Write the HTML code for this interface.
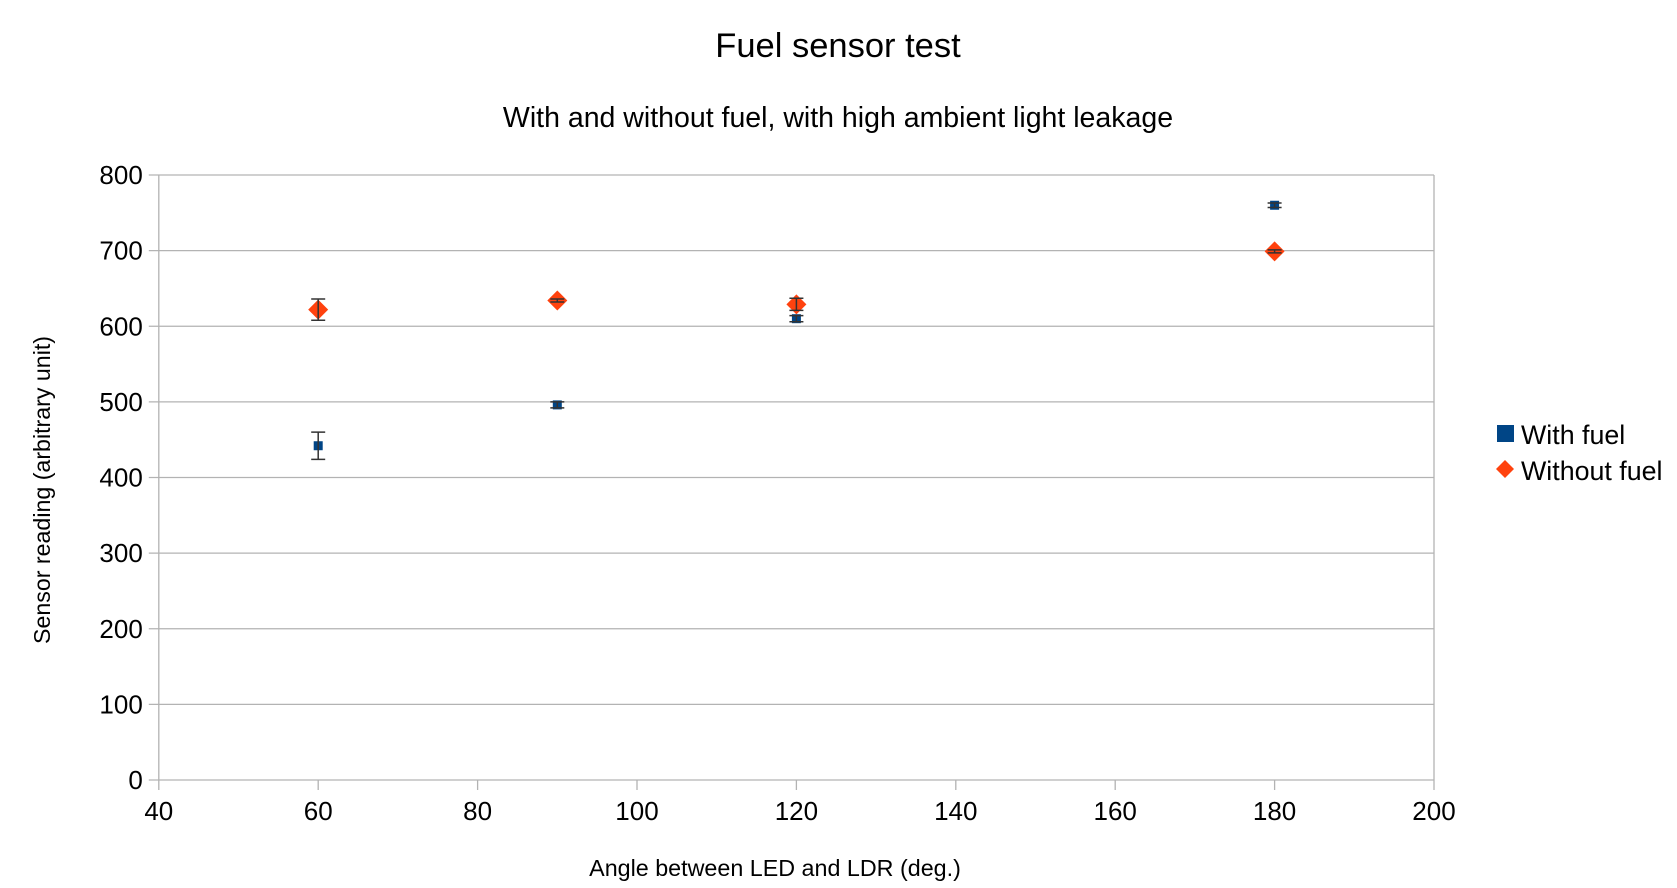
<!DOCTYPE html>
<html><head><meta charset="utf-8"><style>
html,body{margin:0;padding:0;background:#fff;}
svg{display:block;font-family:"Liberation Sans",sans-serif;}
</style></head><body>
<svg id="chart" width="1677" height="888">
<text x="838" y="57" font-size="34.5" text-anchor="middle">Fuel sensor test</text>
<text x="838" y="127" font-size="28.5" text-anchor="middle">With and without fuel, with high ambient light leakage</text>
<g id="grid"></g>
<g id="axes"></g>
<g id="marks"></g>
<text x="775" y="876" font-size="23.3" text-anchor="middle">Angle between LED and LDR (deg.)</text>
<text transform="translate(50,490) rotate(-90)" font-size="23.2" text-anchor="middle">Sensor reading (arbitrary unit)</text>
<g>
<g><rect x="1497" y="425" width="17" height="17" fill="#004586"/><text x="1521" y="444" font-size="26.8">With fuel</text></g>
<g><polygon points="1505,460 1514,469 1505,478 1496,469" fill="#ff420e"/><text x="1521" y="480" font-size="26.8">Without fuel</text></g>
</g>
</svg>
<script>
const xTicks=[40,60,80,100,120,140,160,180,200];
const yTicks=[0,100,200,300,400,500,600,700,800];
const withX=[60,90,120,180];
const withY=[442,496,610,760];
const withErr=[18,4,4,3];
const withoutX=[60,90,120,180];
const withoutY=[622,634,629,699];
const withoutErr=[14,2,8,2];
const NS="http://www.w3.org/2000/svg";
const X0=158.8,X1=1434,Y0=780,Y1=175;
const sx=v=>X0+(v-40)/(200-40)*(X1-X0);
const sy=v=>Y0-(v/800)*(Y0-Y1);
function mk(tag,at,parent){const e=document.createElementNS(NS,tag);for(const k in at)e.setAttribute(k,at[k]);document.getElementById(parent).appendChild(e);return e;}
yTicks.forEach(v=>{
 const l=mk('line',{x1:X0-10,x2:X1,y1:sy(v),y2:sy(v),stroke:'#b3b3b3','stroke-width':1.3},'grid');
 
 
 const t=mk('text',{x:X0-16,y:sy(v)+9,'font-size':26,'text-anchor':'end'},'axes');t.textContent=v;
 
 
});
xTicks.forEach(v=>{
 const l=mk('line',{x1:sx(v),x2:sx(v),y1:(v===40||v===200)?Y1:Y0,y2:Y0+10,stroke:'#b3b3b3','stroke-width':1.3},'grid');
 
 
 const t=mk('text',{x:sx(v),y:Y0+40,'font-size':26,'text-anchor':'middle'},'axes');t.textContent=v;
 
 
});
function err(x,y,e){
 const cx=sx(x),a=sy(y+e),b=sy(y-e);
 const g=mk('path',{d:`M${cx},${a}V${b}M${cx-7},${a}H${cx+7}M${cx-7},${b}H${cx+7}`,stroke:'#333','stroke-width':1.5,fill:'none'},'marks');
 
 
}
withoutX.forEach((x,i)=>{
 const cx=sx(x),cy=sy(withoutY[i]);
 const p=mk('polygon',{points:`${cx},${cy-10} ${cx+10},${cy} ${cx},${cy+10} ${cx-10},${cy}`,fill:'#ff420e'},'marks');
 
 
 err(x,withoutY[i],withoutErr[i]);
});
withX.forEach((x,i)=>{
 const cx=sx(x),cy=sy(withY[i]);
 const r=mk('rect',{x:cx-4.5,y:cy-4.5,width:9,height:9,fill:'#004586'},'marks');
 
 
 err(x,withY[i],withErr[i]);
});
</script>
</body></html>
